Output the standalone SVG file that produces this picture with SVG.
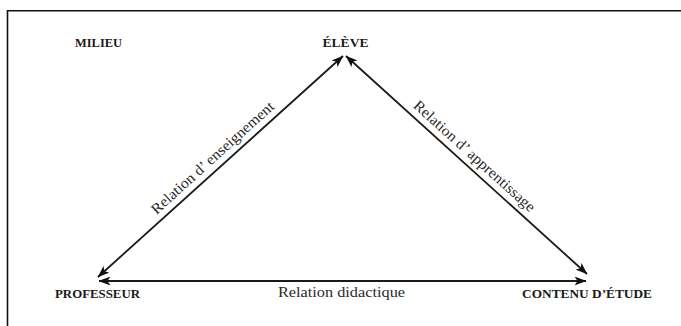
<svg xmlns="http://www.w3.org/2000/svg" width="681" height="326" viewBox="0 0 681 326">
<style>
.node{font-family:"Liberation Serif","Times New Roman",serif;font-weight:bold;font-size:12.5px;fill:#1a1a1a}
.lbl{font-family:"Liberation Serif","Times New Roman",serif;font-size:15px;fill:#2a2a2a}
.edge{stroke:#1a1a1a;stroke-width:1.8;fill:none;marker-start:url(#ah);marker-end:url(#ah)}
.frame{stroke:#111;stroke-width:1.6;fill:none}
</style>
<defs>
<marker id="ah" viewBox="0 0 12 9" refX="11.5" refY="4.5" markerWidth="12" markerHeight="9" markerUnits="userSpaceOnUse" orient="auto-start-reverse">
<path d="M0,0 L12,4.5 L0,9 L3,4.5 Z" fill="#111"/>
</marker>
</defs>
<rect width="681" height="326" fill="#fff"/>
<path class="frame" d="M7.5,326 V10.8 H681"/>
<g id="connectors">
<line class="edge" x1="98" y1="277" x2="343" y2="56"/>
<line class="edge" x1="346" y1="56" x2="587" y2="274"/>
<line class="edge" x1="99" y1="281" x2="586" y2="281"/>
<text class="lbl" text-anchor="middle" textLength="160" lengthAdjust="spacingAndGlyphs" transform="translate(215.8,161.3) rotate(-42.05)">Relation d’ enseignement</text>
<text class="lbl" text-anchor="middle" textLength="158" lengthAdjust="spacingAndGlyphs" transform="translate(471.2,159.8) rotate(42.1)">Relation d’ apprentissage</text>
<text class="lbl" x="341.5" y="296.5" text-anchor="middle" textLength="127" lengthAdjust="spacingAndGlyphs">Relation didactique</text>
</g>
<g id="milieu"><text class="node" x="75" y="47" textLength="47" lengthAdjust="spacingAndGlyphs">MILIEU</text></g>
<g id="eleve"><text class="node" x="322.5" y="47" textLength="46" lengthAdjust="spacingAndGlyphs">ÉLÈVE</text></g>
<g id="professeur"><text class="node" x="55" y="297.5" textLength="85" lengthAdjust="spacingAndGlyphs">PROFESSEUR</text></g>
<g id="contenu"><text class="node" x="522" y="297.5" textLength="130" lengthAdjust="spacingAndGlyphs">CONTENU D’ÉTUDE</text></g>
</svg>
